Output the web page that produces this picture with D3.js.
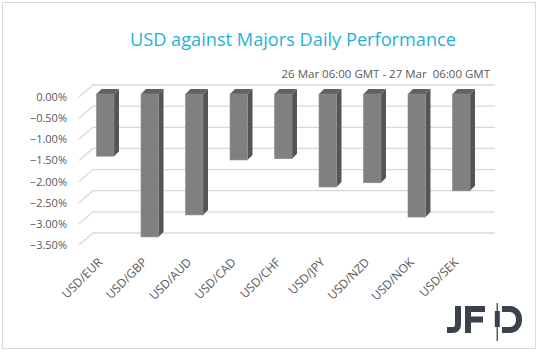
<!DOCTYPE html>
<html>
<head>
<meta charset="utf-8">
<script src="https://cdn.jsdelivr.net/npm/d3@7"></script>
<style>
  body { margin: 0; background: #fff; }
  svg { display: block; font-family: "Open Sans", sans-serif; }
</style>
</head>
<body>
<svg id="chart"></svg>
<script>
const pairs = ["USD/EUR", "USD/GBP", "USD/AUD", "USD/CAD", "USD/CHF", "USD/JPY", "USD/NZD", "USD/NOK", "USD/SEK"];
const changes = [-1.47, -3.38, -2.86, -1.56, -1.53, -2.20, -2.10, -2.91, -2.29];
const yTicks = [0, -0.5, -1, -1.5, -2, -2.5, -3, -3.5];

const width = 538, height = 352;
const svg = d3.select("#chart").attr("width", width).attr("height", height);

// outer frame
svg.append("rect")
  .attr("x", 2.5).attr("y", 2.5)
  .attr("width", 533).attr("height", 346)
  .attr("fill", "#fff").attr("stroke", "#d9d9d9");

// title + subtitle
svg.append("text")
  .attr("x", 293).attr("y", 46)
  .attr("text-anchor", "middle")
  .attr("font-size", 18.2)
  .attr("fill", "#1fb2d8")
  .text("USD against Majors Daily Performance");

svg.append("text")
  .attr("x", 490).attr("y", 78)
  .attr("text-anchor", "end")
  .attr("font-size", 11.5)
  .attr("fill", "#595959")
  .style("white-space", "pre")
  .text("26 Mar 06:00 GMT - 27 Mar  06:00 GMT");

// 3d geometry: back wall and front plane offsets
const wallX0 = 93, wallX1 = 495;
const floorDx = 14, floorDy = 12;
const depthDx = 5, depthDy = 5;

// y scale for the front face of the bars
const y = d3.scaleLinear().domain([0, -3.5]).range([94, 242]);
// back wall sits 9px above the bar front plane
const yWall = v => y(v) - 9;

const x = d3.scaleBand()
  .domain(pairs)
  .range([83, 483.5])
  .paddingInner(0.607)
  .paddingOuter(0.3035);

// gridlines: floor diagonal + back wall
const grid = svg.append("g");
grid.selectAll("path")
  .data(yTicks)
  .join("path")
  .attr("d", d => `M${wallX0 - floorDx},${yWall(d) + floorDy}L${wallX0},${yWall(d)}L${wallX1},${yWall(d)}`)
  .attr("fill", "none")
  .attr("stroke", "#d9d9d9")
  .attr("stroke-width", 1.3);

// y labels
svg.append("g")
  .selectAll("text")
  .data(yTicks)
  .join("text")
  .attr("x", 67)
  .attr("y", d => yWall(d) + floorDy + 4)
  .attr("text-anchor", "end")
  .attr("font-size", 11)
  .attr("fill", "#595959")
  .text(d => d3.format(".2f")(d) + "%");

// bars
const bars = svg.append("g")
  .selectAll("g")
  .data(pairs.map((p, i) => ({ pair: p, value: changes[i] })))
  .join("g");

const bw = x.bandwidth();

bars.append("path") // side
  .attr("d", d => {
    const x1 = x(d.pair) + bw, t = y(0), b = y(d.value);
    return `M${x1},${t}L${x1 + depthDx},${t - depthDy}L${x1 + depthDx},${b - depthDy}L${x1},${b}Z`;
  })
  .attr("fill", "#555555");

bars.append("path") // top
  .attr("d", d => {
    const x0 = x(d.pair), t = y(0);
    return `M${x0},${t}L${x0 + depthDx},${t - depthDy}L${x0 + bw + depthDx},${t - depthDy}L${x0 + bw},${t}Z`;
  })
  .attr("fill", "#616161");

bars.append("rect") // front
  .attr("x", d => x(d.pair))
  .attr("y", y(0))
  .attr("width", bw)
  .attr("height", d => y(d.value) - y(0))
  .attr("fill", "#808080")
  .attr("stroke", "#8c8c8c")
  .attr("stroke-width", 0.6);

// x labels
svg.append("g")
  .selectAll("text")
  .data(pairs)
  .join("text")
  .attr("transform", d => `translate(${x(d) + bw / 2 - 2},${263}) rotate(-45)`)
  .attr("text-anchor", "end")
  .attr("font-size", 12)
  .attr("fill", "#595959")
  .text(d => d);

// JFD logo
const logo = svg.append("g").attr("fill", "#3a424e");
logo.append("path") // J
  .attr("d", "M455,306h6v19a8,8 0 0 1 -8,8h-6v-6h6a2,2 0 0 0 2,-2Z");
logo.append("path") // F
  .attr("d", "M465,306h20v6h-14v4.5h12v6h-12v10.5h-6Z");
logo.append("rect").attr("x", 496.6).attr("y", 303).attr("width", 1.3).attr("height", 38);
logo.append("rect").attr("x", 494.8).attr("y", 311).attr("width", 5).attr("height", 16);
logo.append("path") // D
  .attr("d", "M502,306h8a12,13 0 0 1 12,13v1a12,13 0 0 1 -12,13h-8v-6h8a6,7 0 0 0 6,-7v-1a6,7 0 0 0 -6,-7h-8Z");
</script>
</body>
</html>
